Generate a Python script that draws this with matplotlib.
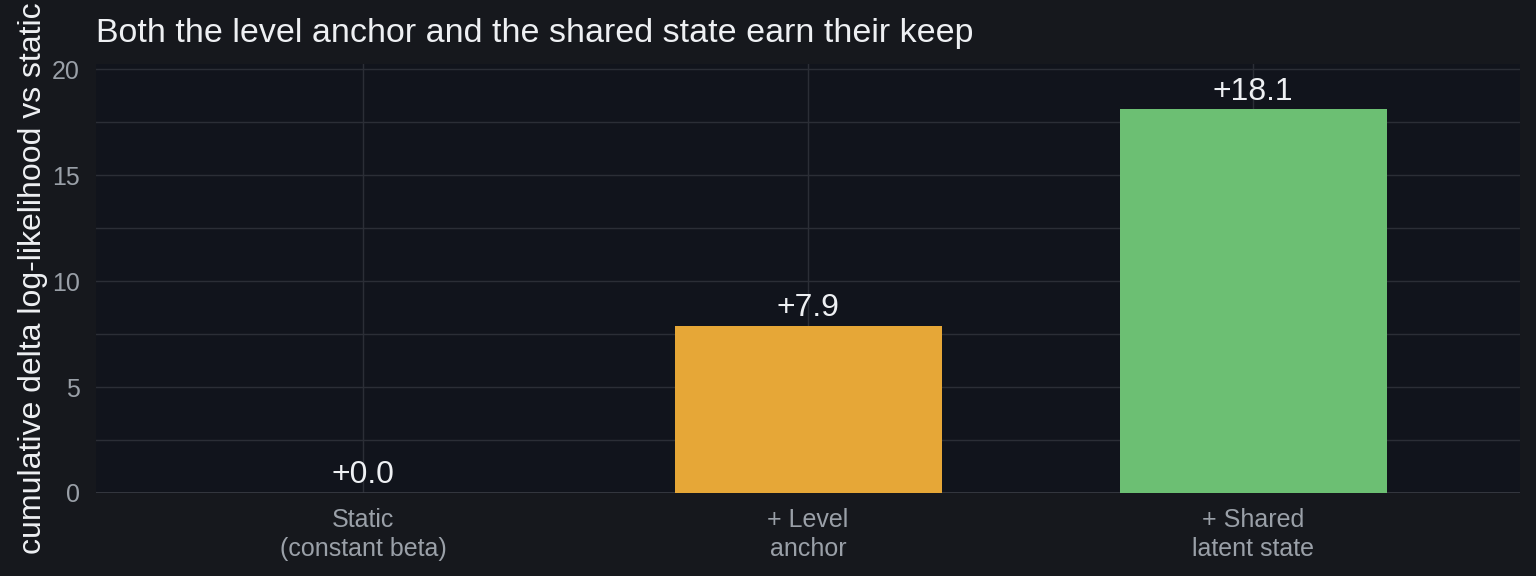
import matplotlib.pyplot as plt
from matplotlib.ticker import MultipleLocator

categories = ["Static\n(constant beta)", "+ Level\nanchor", "+ Shared\nlatent state"]
delta_ll = [0.0, 7.9, 18.1]
bar_colors = ["#11141c", "#e6a737", "#6cbf73"]

plt.rcParams["font.family"] = ["Liberation Sans", "DejaVu Sans"]

fig = plt.figure(figsize=(15.36, 5.76), dpi=100, facecolor="#16181d")
ax = fig.add_axes([96 / 1536, 83 / 576, 1424 / 1536, 429 / 576])
ax.set_facecolor("#11141c")

x = list(range(len(categories)))
bars = ax.bar(x, delta_ll, width=0.6, color=bar_colors, zorder=3)

for xi, v in zip(x, delta_ll):
    ax.annotate(f"{v:+.1f}", (xi, v), xytext=(0, 2), textcoords="offset points",
                ha="center", va="bottom", fontsize=23, color="#eef0f3", zorder=4)

ax.set_xlim(-0.6, 2.6)
ax.set_ylim(0, 20.24)
ax.set_xticks(x)
ax.set_xticklabels(categories, fontsize=18, color="#9aa0a8", linespacing=1.25)
ax.yaxis.set_major_locator(MultipleLocator(5))
ax.yaxis.set_minor_locator(MultipleLocator(2.5))
ax.tick_params(axis="y", which="major", labelsize=18, labelcolor="#9aa0a8", length=0, pad=11.5)
ax.tick_params(axis="y", which="minor", length=0)
ax.tick_params(axis="x", length=0, pad=11)

ax.grid(True, which="both", axis="y", color="#2b2e36", linewidth=1, zorder=0)
ax.grid(True, which="major", axis="x", color="#2b2e36", linewidth=1, zorder=0)
ax.axhline(0, color="#3a3d45", linewidth=1.2, zorder=2)
for s in ax.spines.values():
    s.set_visible(False)

ax.set_ylabel("cumulative delta log-likelihood vs static", fontsize=23, color="#eef0f3")
ax.yaxis.set_label_coords(-48 / 1424, 0.5)

fig.text(96 / 1536, (576 - 42) / 576, "Both the level anchor and the shared state earn their keep",
         fontsize=24.5, color="#eef0f3", ha="left", va="baseline")

fig.savefig("out.png", dpi=100, facecolor=fig.get_facecolor())
